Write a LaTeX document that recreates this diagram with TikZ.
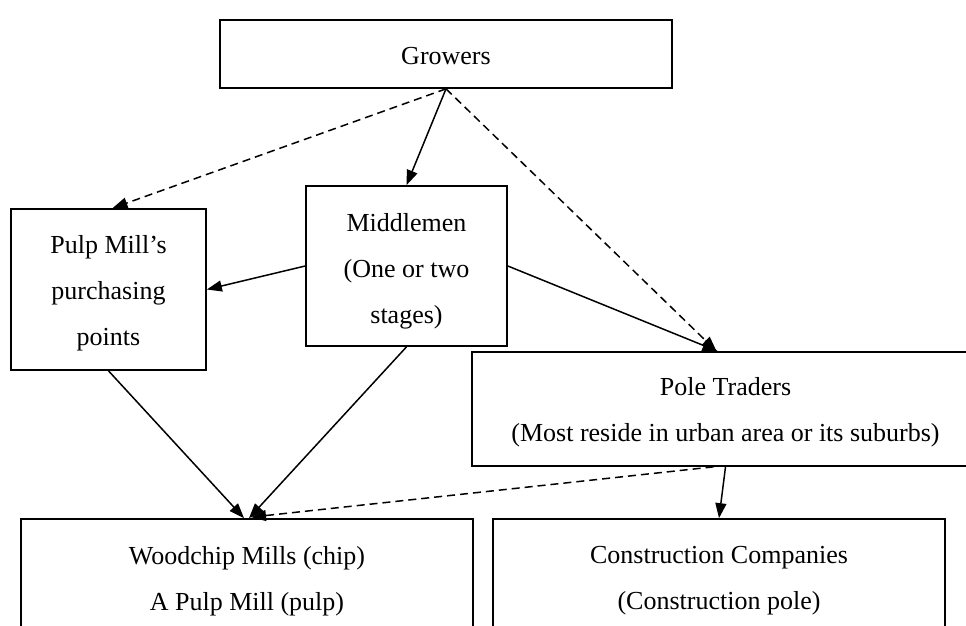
\documentclass[tikz,border=0pt]{standalone}
\usepackage{fontspec}
\setmainfont{Liberation Serif}
\usetikzlibrary{arrows.meta}
\begin{document}
\begin{tikzpicture}[x=1pt,y=-1pt,
  box/.style={draw, line width=1.7pt, inner sep=0pt},
  txt/.style={inner sep=0pt, align=center, font=\fontsize{26}{46}\selectfont},
  arr/.style={line width=1.5pt, -{Triangle[length=15pt,width=11pt]}},
  darr/.style={arr, dash pattern=on 8pt off 5pt}]
\useasboundingbox (0,0) rectangle (966,626);
\clip (0,0) rectangle (966,626);
\node[box, minimum width=452pt, minimum height=68pt] (grow) at (446,54) {};
\node[box, minimum width=195pt, minimum height=161pt] (pulp) at (108.5,289.5) {};
\node[box, minimum width=201pt, minimum height=160pt] (mid) at (406.5,266) {};
\node[box, minimum width=507pt, minimum height=114pt] (pole) at (725.5,409) {};
\node[box, minimum width=452pt, minimum height=200pt] (wood) at (247,619) {};
\node[box, minimum width=452pt, minimum height=200pt] (cons) at (719,619) {};
\node[txt] (growtxt) at (446,56) {Growers};
\node[txt] (pulptxt) at (108.5,293) {Pulp Mill’s\\purchasing\\points};
\node[txt] (midtxt) at (406.5,271) {Middlemen\\(One or two\\stages)};
\node[txt] (poletxt) at (725.5,412) {Pole Traders\\(Most reside in urban area or its suburbs)};
\node[txt] (woodtxt) at (247,581) {Woodchip Mills (chip)\\A Pulp Mill (pulp)};
\node[txt] (constxt) at (719,581) {Construction Companies\\(Construction pole)};
% connectors
\draw[arr] (grow.south) -- (mid.north);
\draw[darr] (grow.south) -- ([xshift=4pt]pulp.north);
\draw[darr] (grow.south) -- ([xshift=-9pt]pole.north);
\draw[arr] (mid.west) -- (pulp.east);
\draw[arr] (mid.east) -- ([xshift=-8pt]pole.north);
\draw[arr] (pulp.south) -- ([xshift=-3pt]wood.north);
\draw[arr] (mid.south) -- ([xshift=2pt]wood.north);
\draw[darr] ([xshift=-12pt]pole.south) -- ([xshift=4pt,yshift=1pt]wood.north);
\draw[arr] (pole.south) -- (cons.north);
\end{tikzpicture}
\end{document}
